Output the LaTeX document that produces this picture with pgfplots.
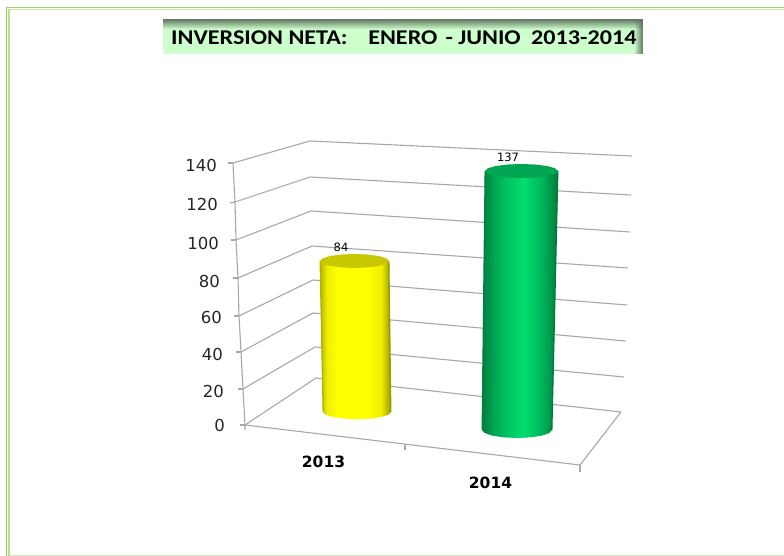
\documentclass[border=0pt]{standalone}
\usepackage{pgfplots}
\pgfplotsset{compat=1.18}
\usepackage{fontspec}
\usetikzlibrary{fadings}
\setmainfont{DejaVu Sans}
\newfontfamily\calib{Carlito}
\definecolor{gridc}{HTML}{A8A8A8}
\definecolor{yelA}{HTML}{B4B400}\definecolor{yelB}{HTML}{EFEF00}\definecolor{yelC}{HTML}{FFFF00}\definecolor{yelD}{HTML}{989800}
\definecolor{grnA}{HTML}{007F40}\definecolor{grnB}{HTML}{00B75C}\definecolor{grnC}{HTML}{00DE70}\definecolor{grnD}{HTML}{007A3C}
\definecolor{titleshadow}{HTML}{5F7560}
\pgfdeclarehorizontalshading{yelbar}{100bp}{color(0bp)=(yelA);color(25bp)=(yelA);color(30bp)=(yelB);color(37bp)=(yelC);color(58bp)=(yelC);color(68bp)=(yelB);color(75bp)=(yelD);color(100bp)=(yelD)}
\pgfdeclarehorizontalshading{grnbar}{100bp}{color(0bp)=(grnA);color(25bp)=(grnA);color(37bp)=(grnB);color(52bp)=(grnC);color(64bp)=(grnB);color(75bp)=(grnD);color(100bp)=(grnD)}
\pgfplotsset{base/.style={at={(0,0)},anchor=south west,scale only axis,width=784pt,height=556pt,hide axis,clip=false,xmin=0,xmax=784},
  gl/.style={color=gridc,solid,mark=none,line width=1.1pt,line join=round}}
\begin{document}
\begin{tikzpicture}
\useasboundingbox (0,0) rectangle (784pt,556pt);
% frame, title and 3-D walls, in picture coordinates
\begin{axis}[base,ymin=0,ymax=556,y dir=reverse]
\draw[color={rgb,255:red,155;green,211;blue,107},line width=1.2pt] (axis cs:6,7.5)--(axis cs:784,7.5);
\draw[color={rgb,255:red,200;green,230;blue,168},line width=1.5pt] (axis cs:9,9.7)--(axis cs:784,9.7);
\draw[color={rgb,255:red,142;green,210;blue,76},line width=1.2pt] (axis cs:6.5,7)--(axis cs:6.5,556);
\draw[color={rgb,255:red,184;green,224;blue,144},line width=2.4pt] (axis cs:9,9)--(axis cs:9,556);
\draw[color={rgb,255:red,219;green,232;blue,187},line width=1.2pt] (axis cs:10,555.4)--(axis cs:784,555.4);
% left axis
\addplot[gl] coordinates {(233,163) (235,202) (236,240) (238,278) (239,316) (241,352) (243,389) (245,425) (245,430)};
% ticks on the left axis
\addplot[gl] coordinates {(228,163) (233,163)};
\addplot[gl] coordinates {(230,203) (235,202)};
\addplot[gl] coordinates {(231,240) (236,240)};
\addplot[gl] coordinates {(233,278) (238,278)};
\addplot[gl] coordinates {(234,316) (239,316)};
\addplot[gl] coordinates {(236,352) (241,352)};
\addplot[gl] coordinates {(238,389) (243,389)};
\addplot[gl] coordinates {(240,425) (245,425)};
% walls
\addplot[gl] coordinates {(233,163) (310,141) (632,156)};
\addplot[gl] coordinates {(235,202) (310,177) (631,195)};
\addplot[gl] coordinates {(236,240) (311,211) (630,232)};
\addplot[gl] coordinates {(238,278) (312,246) (628,268)};
\addplot[gl] coordinates {(239,316) (313,280) (627,305)};
\addplot[gl] coordinates {(241,352) (313,313) (626,341)};
\addplot[gl] coordinates {(243,389) (315,347) (624,377)};
\addplot[gl] coordinates {(245,425) (316,378) (621,412)};
% floor
\addplot[gl] coordinates {(245,425) (580,465) (621,412)};
\addplot[gl] coordinates {(405,445) (405,450)};
\addplot[gl] coordinates {(580,465) (580,472)};
% tick labels
\begin{scope}[every node/.style={anchor=east,inner sep=0pt,font=\fontsize{16.5pt}{17pt}\selectfont,text=black!85}]
\node at (axis cs:217,165) {140};
\node at (axis cs:218,204) {120};
\node at (axis cs:219,243) {100};
\node at (axis cs:220,281) {80};
\node at (axis cs:222,317) {60};
\node at (axis cs:223,354) {40};
\node at (axis cs:224,391) {20};
\node at (axis cs:225,425) {0};
\end{scope}
\node[inner sep=0pt,font=\bfseries\fontsize{15.5pt}{16pt}\selectfont] at (axis cs:323.5,462) {2013};
\node[inner sep=0pt,font=\bfseries\fontsize{15.5pt}{16pt}\selectfont] at (axis cs:490.5,483) {2014};
\node[inner sep=0pt,font=\fontsize{11.5pt}{12pt}\selectfont] at (axis cs:341,247) {84};
\node[inner sep=0pt,font=\fontsize{11.5pt}{12pt}\selectfont] at (axis cs:508,157) {137};
% title
\fill[color={rgb,255:red,204;green,255;blue,204}] (axis cs:163,19) rectangle (axis cs:643,54);
\fill[titleshadow,path fading=south] (axis cs:163,19) rectangle (axis cs:643,29);
\fill[titleshadow,path fading=west] (axis cs:634,19) rectangle (axis cs:643,54);
\node[anchor=west,inner sep=0pt] at (axis cs:171,38) {\scalebox{1.15}[1]{\calib\bfseries\fontsize{21pt}{22pt}\selectfont INVERSION NETA:\hspace{18pt}ENERO\hspace{7pt}- JUNIO\hspace{9pt}2013-2014}};
\end{axis}
% 2013 cylinder: y is the value
\begin{axis}[base,ymin=-80.106,ymax=229.19]
\addplot[draw=none,shade,shading=yelbar] coordinates {(320,84) (323,0) (325.6,-1.53) (333,-2.83) (344,-3.70) (357,-4.0) (370,-3.70) (381,-2.83) (388.4,-1.53) (391,0) (389,84)} --cycle;
\addplot[color=yelA,line width=1.3pt,mark=none] coordinates {(320.2,84) (323.2,0)};
\addplot[color=yelD,line width=1.3pt,mark=none] coordinates {(388.8,84) (390.8,0)};
\addplot[draw=none,fill={rgb,255:red,200;green,200;blue,0}] coordinates {(320,84) (322.6,85.49) (330.1,86.76) (341.3,87.6) (354.5,87.9) (367.7,87.6) (378.9,86.76) (386.4,85.49) (389,84) (386.4,82.51) (378.9,81.24) (367.7,80.4) (354.5,80.1) (341.3,80.4) (330.1,81.24) (322.6,82.51)} --cycle;
\end{axis}
% 2014 cylinder: y is the value
\begin{axis}[base,ymin=-66.65,ymax=227.45]
\addplot[draw=none,shade,shading=grnbar] coordinates {(485,137) (482,0) (484.7,-1.62) (492.3,-2.99) (503.6,-3.91) (517,-4.23) (530.4,-3.91) (541.7,-2.99) (549.3,-1.62) (552,0) (558,137)} --cycle;
\addplot[color=grnA,line width=1.3pt,mark=none] coordinates {(485.2,137) (482.2,0)};
\addplot[color=grnD,line width=1.3pt,mark=none] coordinates {(557.8,137) (551.8,0)};
\addplot[draw=none,fill={rgb,255:red,0;green,165;blue,82}] coordinates {(485,137) (487.8,138.42) (495.7,139.62) (507.5,140.42) (521.5,140.7) (535.5,140.42) (547.3,139.62) (555.2,138.42) (558,137) (555.2,135.58) (547.3,134.38) (535.5,133.58) (521.5,133.3) (507.5,133.58) (495.7,134.38) (487.8,135.58)} --cycle;
\end{axis}
\end{tikzpicture}
\end{document}
